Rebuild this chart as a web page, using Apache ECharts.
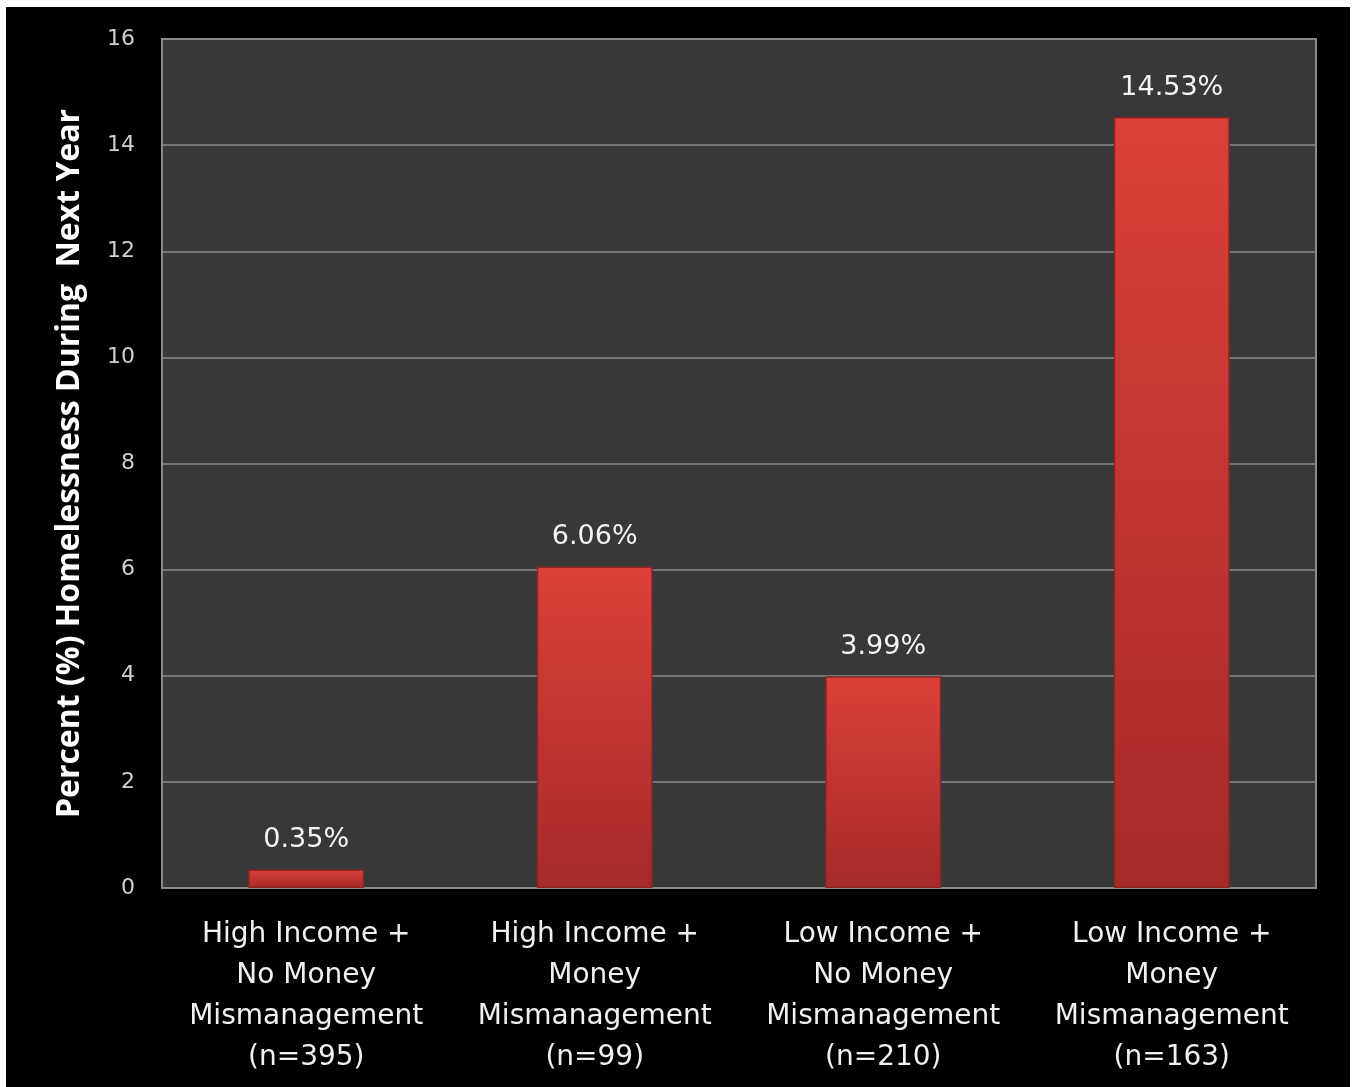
<!DOCTYPE html>
<html>
<head>
<meta charset="utf-8">
<script src="https://cdn.jsdelivr.net/npm/echarts@6/dist/echarts.min.js"></script>
<style>
  html, body { margin: 0; padding: 0; background: #ffffff; }
  #main { position: absolute; left: 6px; top: 7px; width: 1344px; height: 1080px; background: #000; }
</style>
</head>
<body>
<div id="main"></div>
<script>
// chart data
var categories = [
  'High Income +\nNo Money\nMismanagement\n(n=395)',
  'High Income +\nMoney\nMismanagement\n(n=99)',
  'Low Income +\nNo Money\nMismanagement\n(n=210)',
  'Low Income +\nMoney\nMismanagement\n(n=163)'
];
var percentValues = [0.35, 6.06, 3.99, 14.53];
var yTicks = [0, 2, 4, 6, 8, 10, 12, 14, 16];

var chart = echarts.init(document.getElementById('main'), null, { renderer: 'canvas' });

var option = {
  backgroundColor: '#000',
  animation: false,
  grid: {
    left: 156,
    top: 32,
    width: 1154,
    height: 849,
    show: true,
    backgroundColor: '#383838',
    borderColor: '#8a8a8a',
    borderWidth: 2
  },
  xAxis: {
    type: 'category',
    data: categories,
    axisLine: { show: false },
    axisTick: { show: false },
    axisLabel: {
      interval: 0,
      hideOverlap: false,
      color: '#f0f0f0',
      fontFamily: 'DejaVu Sans',
      fontSize: 28,
      lineHeight: 41,
      margin: 26
    }
  },
  yAxis: {
    type: 'value',
    min: yTicks[0],
    max: yTicks[yTicks.length - 1],
    interval: 2,
    name: 'Percent (%) Homelessness During  Next Year',
    nameLocation: 'middle',
    nameRotate: 90,
    nameGap: 76,
    nameTextStyle: {
      color: '#fff',
      fontFamily: 'Open Sans',
      fontWeight: 'bold',
      fontSize: 32
    },
    axisLine: { show: false },
    axisTick: { show: false },
    axisLabel: {
      color: '#d0d0d0',
      fontFamily: 'DejaVu Sans',
      fontSize: 22,
      margin: 27
    },
    splitLine: { lineStyle: { color: '#8a8a8a', width: 1.5 } }
  },
  series: [{
    type: 'bar',
    data: percentValues,
    barWidth: 116,
    itemStyle: {
      color: new echarts.graphic.LinearGradient(0, 0, 0, 1, [
        { offset: 0, color: '#dc4039' },
        { offset: 1, color: '#a52a2a' }
      ]),
      borderColor: '#8e2420',
      borderWidth: 1.5
    },
    label: {
      show: true,
      position: 'top',
      distance: 16,
      color: '#f4f4f4',
      fontFamily: 'DejaVu Sans',
      fontSize: 27,
      formatter: function (p) { return p.value.toFixed(2) + '%'; }
    }
  }]
};

chart.setOption(option);
</script>
</body>
</html>
